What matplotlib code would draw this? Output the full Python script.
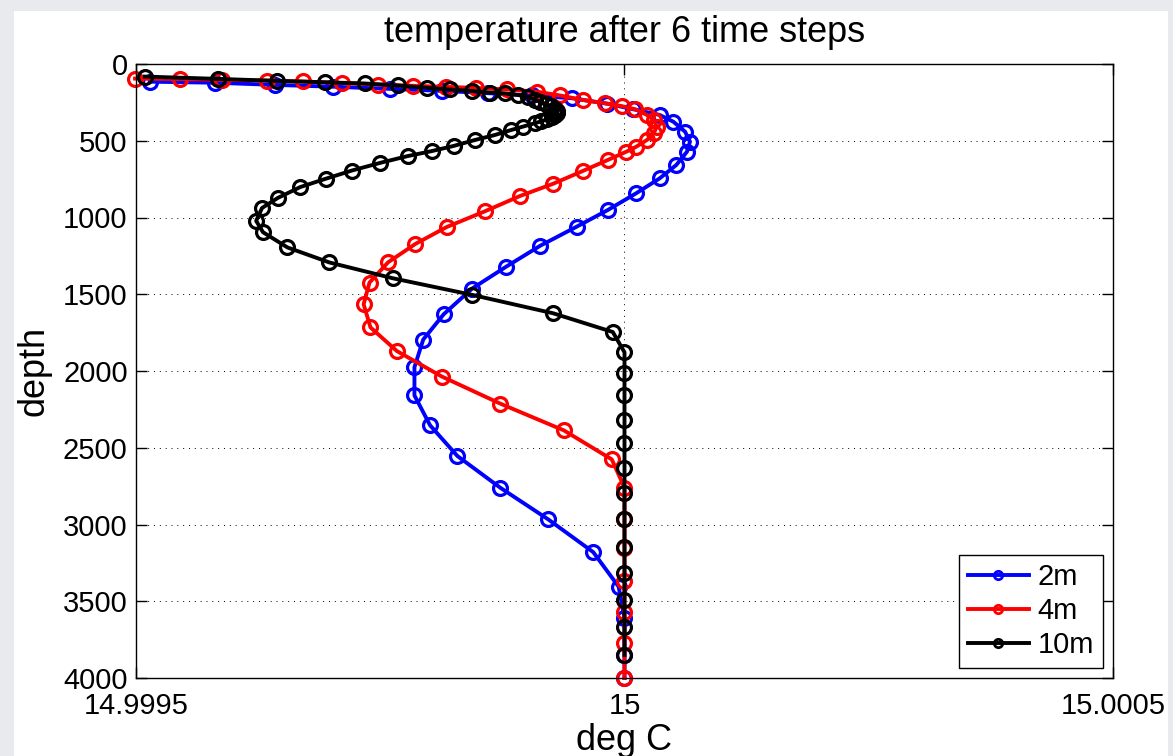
import matplotlib
matplotlib.use('Agg')
import matplotlib.pyplot as plt
from matplotlib.lines import Line2D
from matplotlib.patches import Rectangle
import numpy as np

plt.rcParams['font.family'] = ['Liberation Sans', 'DejaVu Sans']

# temperature anomaly relative to 15 deg C, in units of 1e-4 deg C
dT_2m = [-4.86, -4.19, -3.58, -2.98, -2.40, -1.87, -1.40, -0.95, -0.54, -0.18,
         0.09, 0.36, 0.50, 0.62, 0.67, 0.64, 0.53, 0.36, 0.12, -0.17,
         -0.49, -0.86, -1.21, -1.56, -1.85, -2.06, -2.15, -2.15, -1.99, -1.71,
         -1.27, -0.78, -0.32, -0.06, 0.0, 0.0, 0.0]
depth_2m = [115, 122, 136, 148, 162, 175, 190, 205, 223, 258,
            295, 332, 376, 441, 506, 571, 658, 745, 842, 951,
            1060, 1183, 1320, 1463, 1630, 1795, 1975, 2159, 2354, 2554,
            2761, 2967, 3180, 3405, 3610, 3850, 4000]

dT_4m = [-5.01, -4.55, -4.12, -3.66, -3.29, -2.89, -2.52, -2.16, -1.83, -1.52,
         -1.20, -0.90, -0.66, -0.42, -0.20, -0.03, 0.11, 0.23, 0.30, 0.33,
         0.30, 0.23, 0.12, 0.02, -0.17, -0.42, -0.73, -1.07, -1.43, -1.82,
         -2.14, -2.42, -2.61, -2.67, -2.60, -2.33, -1.87, -1.27, -0.62, -0.13,
         0.0, 0.0, 0.0, 0.0, 0.0, 0.0, 0.0]
depth_4m = [95, 98, 103, 108, 114, 124, 134, 142, 149, 156,
            166, 180, 205, 235, 256, 274, 295, 332, 365, 408,
            451, 495, 539, 571, 625, 695, 780, 860, 960, 1062,
            1172, 1292, 1424, 1565, 1716, 1870, 2036, 2213, 2387, 2576,
            2760, 2963, 3150, 3370, 3570, 3775, 4000]

dT_10m = [-4.91, -4.16, -3.56, -3.07, -2.66, -2.32, -2.02, -1.79, -1.56, -1.38,
          -1.22, -1.09, -0.99, -0.92, -0.86, -0.80, -0.75, -0.71, -0.69, -0.69,
          -0.71, -0.74, -0.79, -0.85, -0.92, -1.04, -1.16, -1.33, -1.53, -1.75,
          -1.97, -2.22, -2.50, -2.79, -3.06, -3.32, -3.55, -3.71, -3.77, -3.70,
          -3.45, -3.02, -2.37, -1.56, -0.73, -0.12, 0.0, 0.0, 0.0, 0.0,
          0.0, 0.0, 0.0, 0.0, 0.0, 0.0, 0.0, 0.0, 0.0]
depth_10m = [82, 97, 110, 119, 127, 140, 155, 166, 176, 186,
             192, 202, 215, 232, 248, 262, 276, 290, 304, 318,
             332, 346, 360, 373, 386, 408, 430, 463, 495, 534,
             567, 600, 644, 694, 748, 802, 873, 938, 1022, 1096,
             1195, 1293, 1396, 1504, 1624, 1746, 1878, 2013, 2156, 2319,
             2469, 2632, 2795, 2964, 3147, 3316, 3492, 3668, 3850]

labels = ['2m', '4m', '10m']
colors = ['#0000ff', '#ff0000', '#000000']
xticks = [14.9995, 15.0, 15.0005]
xtick_labels = ['14.9995', '15', '15.0005']
yticks = [0, 500, 1000, 1500, 2000, 2500, 3000, 3500, 4000]

fig = plt.figure(figsize=(11.73, 7.56), dpi=100)
fig.patch.set_facecolor('#e8eaee')
# white slide panel behind the axes
panel = Rectangle((14 / 1173, 0), (1168 - 14) / 1173, 1 - 11 / 756,
                  transform=fig.transFigure, facecolor='white',
                  edgecolor='none', zorder=-10)
fig.add_artist(panel)

ax = fig.add_axes([136 / 1173, 1 - 678 / 756, (1113 - 136) / 1173, (678 - 64) / 756])

series = [(dT_2m, depth_2m), (dT_4m, depth_4m), (dT_10m, depth_10m)]
for (dT, dep), c in zip(series, colors):
    temp = 15.0 + np.array(dT) * 1e-4
    ax.plot(temp, dep, '-o', color=c, lw=2.8, ms=10, mew=2.3,
            markerfacecolor='none', clip_on=False)

ax.set_xlim(14.9995, 15.0005)
ax.set_ylim(4000, 0)
ax.set_xticks(xticks)
ax.set_xticklabels(xtick_labels)
ax.set_yticks(yticks)
for lab in ax.get_yticklabels():
    lab.set_verticalalignment('center_baseline')

ax.grid(True, color='k', linestyle=(0, (1, 5)), linewidth=0.7)
ax.tick_params(direction='in', length=8, width=1, labelsize=21,
               top=True, right=True)
ax.tick_params(axis='x', pad=10)
ax.tick_params(axis='y', pad=6)
for s in ax.spines.values():
    s.set_linewidth(1.0)

ax.set_title('temperature after 6 time steps', fontsize=26, pad=16)
ax.set_xlabel('deg C', fontsize=26)
ax.xaxis.set_label_coords(0.5, -0.073)
ax.set_ylabel('depth', fontsize=26)
ax.yaxis.set_label_coords(-0.086, 0.5)

handles = [Line2D([], [], color=c, lw=2.8, marker='o', ms=6, mew=2.0,
                  markerfacecolor='none') for c in colors]
leg = ax.legend(handles, labels, loc='lower right', fontsize=21,
                fancybox=False, framealpha=1, edgecolor='k',
                handlelength=2.1, labelspacing=0.2, borderaxespad=0.35,
                handletextpad=0.3, borderpad=0.3)
leg.get_frame().set_linewidth(1.0)

plt.savefig('out.png', dpi=100, facecolor=fig.get_facecolor())
